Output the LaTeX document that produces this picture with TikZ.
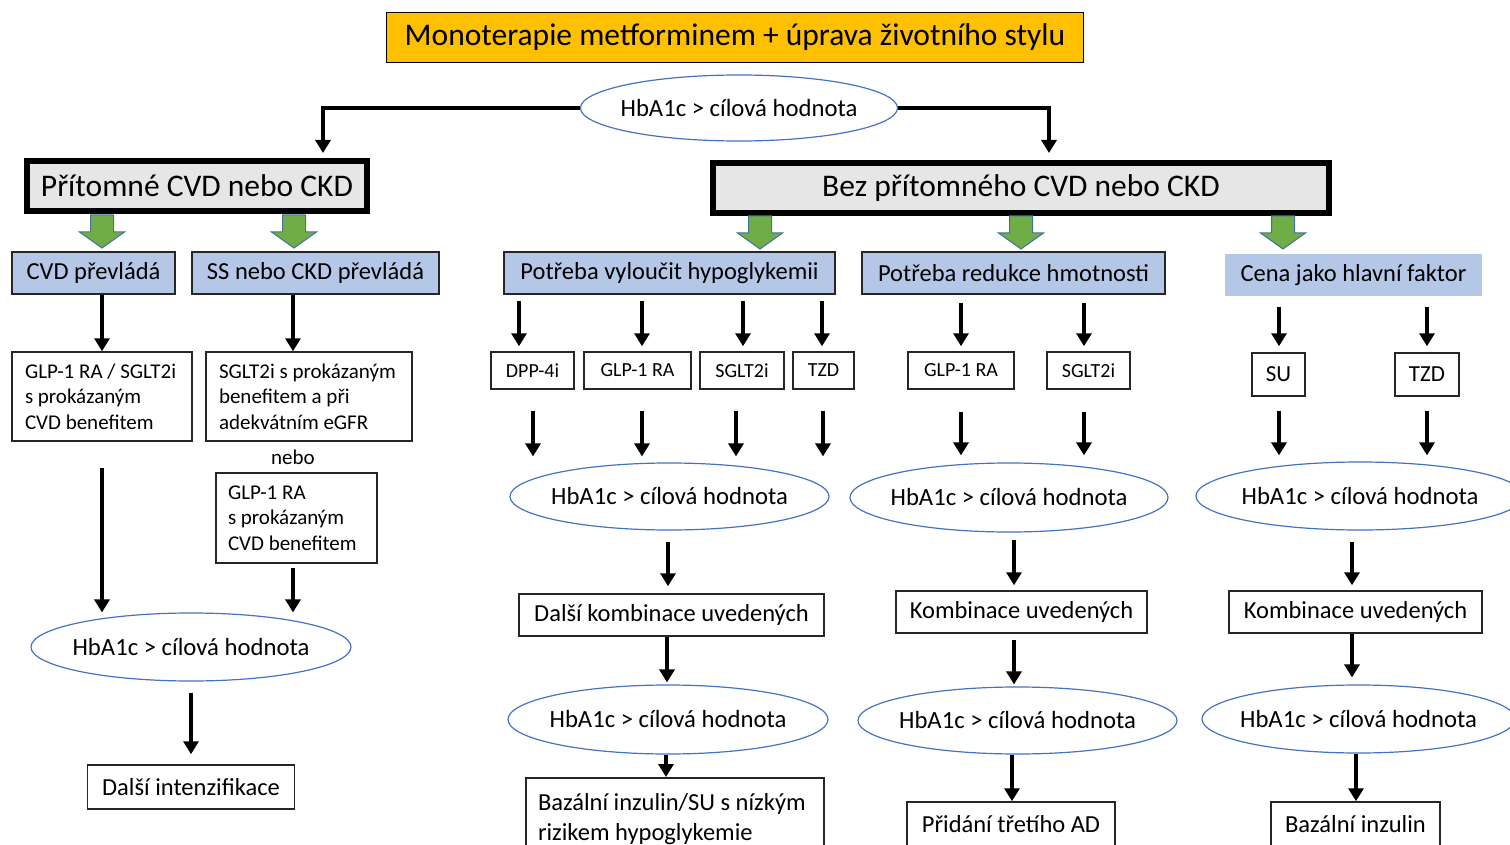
\documentclass[tikz,border=0pt]{standalone}
\usepackage{fontspec}
\setmainfont{Carlito}
\usetikzlibrary{arrows.meta,shapes.geometric}
\definecolor{oranzova}{HTML}{FFC000}
\definecolor{seda}{HTML}{E7E6E6}
\definecolor{modra}{HTML}{B4C7E7}
\definecolor{zelena}{HTML}{70AD47}
\definecolor{zelenaokraj}{HTML}{41719C}
\definecolor{elipsa}{HTML}{4472C4}
\tikzset{
 blok/.pic={\draw[draw=zelenaokraj,fill=zelena,line width=1pt] (-11.5,0) -- (11.5,0) -- (11.5,17) -- (22.5,17) -- (0,33) -- (-22.5,17) -- (-11.5,17) -- cycle;}
}
\begin{document}
\begin{tikzpicture}[x=1pt,y=-1pt,>={Triangle[width=15pt,length=13pt]},
 arr/.style={->,line width=4.5pt},
 titul/.style={draw=black,line width=1.5pt,fill=oranzova,minimum width=697pt,minimum height=50pt,font=\fontsize{31.5}{38}\selectfont},
 hlavni/.style={draw=black,line width=6pt,fill=seda,minimum height=50pt,font=\fontsize{31.5}{38}\selectfont},
 skupina/.style={draw=black!85,line width=1.5pt,fill=modra,minimum height=42pt,inner sep=0pt,font=\fontsize{24.5}{29}\selectfont},
 lek/.style={draw=black!85,line width=1.5pt,minimum height=37pt,inner sep=0pt,font=\fontsize{20}{24}\selectfont},
 krok/.style={draw=black!85,line width=1.5pt,minimum height=43pt,inner sep=0pt,font=\fontsize{24.5}{29}\selectfont},
 vice/.style={draw=black!85,line width=1.5pt,align=flush left,inner xsep=12pt,inner ysep=0pt,font=\fontsize{21}{25.5}\selectfont},
 cil/.style={ellipse,draw=elipsa,line width=1.2pt,inner xsep=-12pt,inner ysep=-10pt,minimum width=319pt,minimum height=67pt,font=\fontsize{24.7}{29}\selectfont}]
\useasboundingbox (0,0) rectangle (1510,845);

% zacatek
\node[titul] (mono) at (735,37.5) {Monoterapie metforminem + úprava životního stylu};
\node[cil,minimum width=317pt,minimum height=66pt] (c0) at (739,108) {HbA1c > cílová hodnota};
\node[hlavni,minimum width=340pt] (cvdano) at (197,186) {Přítomné CVD nebo CKD};
\node[hlavni,minimum width=616pt] (cvdne) at (1021,188) {Bez přítomného CVD nebo CKD};
\coordinate (kL) at (323,153);
\coordinate (kR) at (1049,153);
\draw[->,line width=4pt] (c0.west) -| (kL);
\draw[->,line width=4pt] (c0.east) -| (kR);
\foreach \x in {102,294} \pic at (\x,215) {blok};
\foreach \x in {760,1021,1283} \pic at (\x,216) {blok};

% skupiny
\node[skupina,minimum width=163pt] (cvd) at (93.5,273) {CVD převládá};
\node[skupina,minimum width=247pt] (ss) at (315.5,273) {SS nebo CKD převládá};
\node[skupina,minimum width=331pt] (hypo) at (669.5,273) {Potřeba vyloučit hypoglykemii};
\node[skupina,minimum width=303pt] (hmot) at (1013.5,273) {Potřeba redukce hmotnosti};
\node[skupina,draw=none,minimum width=257pt] (cena) at (1353.5,275) {Cena jako hlavní faktor};

% vlevo
\node[vice,minimum width=180pt,minimum height=89pt,text width=154pt] (a1) at (102,396.5) {GLP-1 RA / SGLT2i\\s prokázaným\\CVD benefitem};
\node[vice,minimum width=206pt,minimum height=89pt,text width=180pt] (a2) at (309,396.5) {SGLT2i s prokázaným\\benefitem a při\\adekvátním eGFR};
\node[font=\fontsize{21}{24}\selectfont,inner sep=0pt] (nebo) at (293,457) {nebo};
\node[vice,minimum width=161pt,minimum height=90pt,text width=137pt] (a3) at (296.5,518) {GLP-1 RA\\s prokázaným\\CVD benefitem};
\node[cil,minimum width=320pt,minimum height=68pt] (c1) at (191,647) {HbA1c > cílová hodnota};
\node[krok,minimum width=207pt,minimum height=44pt] (a4) at (191,787) {Další intenzifikace};
\draw[arr] (cvd.south -| a1) -- (a1.north);
\draw[arr] (ss.south -| nebo) -- (a2.north -| nebo);
\draw[arr,shorten <=26pt] (a1.south) -- (a1.south |- c1.north);
\draw[arr,shorten <=4pt] (a3.south -| nebo) -- (c1.north -| nebo);
\draw[arr,shorten <=11pt,shorten >=10pt] (c1.south) -- (a4.north);

% hypoglykemie
\node[lek,minimum width=83pt] (dpp) at (532.5,370.5) {DPP-4i};
\node[lek,minimum width=107pt] (glpb) at (637.5,370.5) {GLP-1 RA};
\node[lek,minimum width=84pt] (sgltb) at (742,370.5) {SGLT2i};
\node[lek,minimum width=61pt] (tzdb) at (823.5,370.5) {TZD};
\node[cil] (c2) at (669.5,496.5) {HbA1c > cílová hodnota};
\node[krok,minimum width=305pt,minimum height=42pt] (b1) at (671.5,615) {Další kombinace uvedených};
\node[cil,minimum width=320pt,minimum height=69pt] (c3) at (668,719.5) {HbA1c > cílová hodnota};
\node[krok,anchor=north,align=flush left,minimum width=298pt,minimum height=82pt,text width=274pt,font=\fontsize{24.5}{30}\selectfont] (b2) at (675,777) {Bazální inzulin/SU s nízkým\\rizikem hypoglykemie};
\foreach \x/\n in {519/dpp,642/glpb,743/sgltb,822/tzdb}
 \draw[arr,shorten <=6pt,shorten >=5pt] (hypo.south -| \x,0) -- (\n.north -| \x,0);
\foreach \x/\n in {533/dpp,642/glpb,736/sgltb,823/tzdb}
 \draw[arr,shorten <=21pt,shorten >=6pt] (\n.south -| \x,0) -- (c2.north -| \x,0);
\draw[arr,shorten <=11pt,shorten >=7pt] (c2.south -| 668,0) -- (b1.north -| 668,0);
\draw[arr,shorten >=2pt] (b1.south -| 667,0) -- (c3.north -| 667,0);
\draw[arr] (c3.south -| 666,0) -- (b2.north -| 666,0);

% hmotnost
\node[lek,minimum width=106pt] (glpc) at (961,370.5) {GLP-1 RA};
\node[lek,minimum width=83pt] (sgltc) at (1088.5,370.5) {SGLT2i};
\node[cil,minimum width=318pt,minimum height=69pt] (c4) at (1009,497.5) {HbA1c > cílová hodnota};
\node[krok,minimum width=251pt,minimum height=42pt] (d1) at (1021.5,612) {Kombinace uvedených};
\node[cil] (c5) at (1017.5,720.5) {HbA1c > cílová hodnota};
\node[krok,minimum width=208pt,minimum height=44pt] (d2) at (1011,824) {Přidání třetího AD};
\foreach \x/\n in {961/glpc,1084/sgltc} {
 \draw[arr,shorten <=8pt,shorten >=5pt] (hmot.south -| \x,0) -- (\n.north -| \x,0);
 \draw[arr,shorten <=22pt,shorten >=7pt] (\n.south -| \x,0) -- (c4.north -| \x,0);
}
\draw[arr,shorten <=7pt,shorten >=5pt] (c4.south -| 1014,0) -- (d1.north -| 1014,0);
\draw[arr,shorten <=6pt,shorten >=2pt] (d1.south -| 1014,0) -- (c5.north -| 1014,0);
\draw[arr] (c5.south -| 1012,0) -- (d2.north -| 1012,0);

% cena
\node[krok,minimum width=53pt,font=\fontsize{23}{28}\selectfont] (su) at (1278.5,374.5) {SU};
\node[krok,minimum width=64pt,font=\fontsize{23}{28}\selectfont] (tzdd) at (1427,374.5) {TZD};
\node[cil,minimum width=328pt,minimum height=68pt] (c6) at (1360,496) {HbA1c > cílová hodnota};
\node[krok,minimum width=253pt,minimum height=42pt] (e1) at (1355.5,612) {Kombinace uvedených};
\node[cil,minimum width=313pt,minimum height=68pt] (c7) at (1358.5,719) {HbA1c > cílová hodnota};
\node[krok,minimum width=169pt,minimum height=44pt] (e2) at (1355.5,824) {Bazální inzulin};
\foreach \x/\n in {1279/su,1427/tzdd} {
 \draw[arr,shorten <=10pt,shorten >=6pt] (cena.south -| \x,0) -- (\n.north -| \x,0);
 \draw[arr,shorten <=14pt,shorten >=6pt] (\n.south -| \x,0) -- (c6.north -| \x,0);
}
\draw[arr,shorten <=11pt,shorten >=5pt] (c6.south -| 1352,0) -- (e1.north -| 1352,0);
\draw[arr,shorten >=7pt] (e1.south -| 1352,0) -- (c7.north -| 1352,0);
\draw[arr] (c7.south -| 1356,0) -- (e2.north -| 1356,0);
\end{tikzpicture}
\end{document}
